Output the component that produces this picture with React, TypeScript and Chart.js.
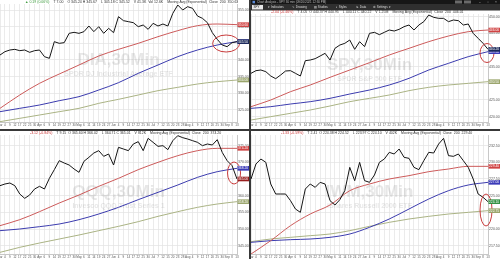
import React, { useEffect, useRef } from "react";
import { Chart, registerables } from "chart.js";
Chart.register(...registerables);

const FONT = '"Liberation Sans", Arial, sans-serif';

const xLabels = ["Mar","4","9","12","17","22","25","30","Apr","6","9","14","19","22","27","30","May","6","11","14","19","24","27","Jun","4","9","14","17","22","25","30","Jul","7","12","15","20","23","28","Aug","4","9","12","17","20","25","30","Sep","8","13"];

// DIA
const diaPrice = [341.5,342.5,343.0,343.2,342.8,343.0,342.3,342.8,343.0,341.0,340.5,345.5,345.0,345.2,348.0,348.3,348.0,348.5,350.2,348.5,350.0,348.0,349.5,348.2,353.0,351.8,351.5,351.2,350.0,350.5,349.2,351.0,350.2,350.8,350.2,354.0,356.5,355.0,356.0,355.5,353.2,352.5,351.2,348.2,346.2,344.5,344.0,345.2,345.5];
const diaMaRed = [325.5,329.5,333.0,335.8,338.5,341.2,343.2,345.0,347.0,348.8,350.3,350.8,350.6];
const diaMaBlue = [324.5,325.5,326.5,327.8,329.0,331.0,333.2,336.0,338.5,341.0,343.0,344.5,345.5];
const diaMaGreen = [321.5,322.5,323.5,324.5,325.5,327.0,328.2,329.5,330.8,331.8,332.8,333.5,334.0];
const diaTicks = [325,330,335,340,345,350,355];

// SPY
const spyPrice = [433.0,433.8,434.0,433.5,432.2,431.4,432.5,433.7,433.8,433.0,432.2,436.8,437.0,437.4,438.2,439.0,437.0,440.5,441.5,442.0,443.0,440.2,442.5,441.0,445.0,445.3,444.6,445.3,446.0,445.7,446.2,447.0,447.5,446.0,447.5,448.5,450.5,449.8,449.5,449.5,448.5,449.0,448.8,447.5,447.8,445.0,443.5,442.0,440.2];
const spyMaRed = [423.0,425.0,427.5,429.5,431.8,434.0,436.2,438.5,440.5,442.5,444.2,445.5,446.0];
const spyMaBlue = [422.5,423.0,423.8,424.5,425.5,426.8,428.0,429.5,431.5,434.0,436.0,438.0,439.5];
const spyMaGreen = [419.0,420.0,421.0,422.0,423.2,424.5,425.5,426.5,427.8,428.8,429.5,430.0,430.5];
const spyTicks = [420,425,430,435,440,445,450];

// QQQ
const qqqPrice = [363.0,363.5,363.8,363.0,360.5,359.2,360.2,362.0,362.8,362.0,365.2,367.8,370.5,369.8,369.2,368.0,367.0,370.3,371.5,372.8,373.5,371.8,372.5,369.2,374.5,374.0,373.5,375.5,376.2,373.5,377.2,376.0,374.8,375.0,373.8,376.5,378.0,377.4,377.0,376.5,376.0,375.0,375.5,375.2,376.8,373.0,370.5,369.0,365.0];
const qqqMaRed = [351.0,352.8,355.2,357.8,360.2,362.8,365.2,367.8,370.0,372.0,373.5,374.2,374.2];
const qqqMaBlue = [349.5,350.0,350.7,351.5,352.8,354.5,356.5,358.8,361.0,363.2,365.5,367.2,368.2];
const qqqMaGreen = [343.0,344.5,345.8,347.0,348.2,349.5,350.8,352.2,353.8,355.2,356.5,357.5,358.2];
const qqqTicks = [345,350,355,360,365,370,375];

// IWM
const iwmPrice = [227.5,229.75,230.5,230.0,226.75,225.25,225.25,225.25,224.25,223.0,222.5,226.0,226.75,226.25,227.0,226.75,224.25,223.6,224.4,225.75,229.25,227.25,230.0,227.25,227.0,228.1,230.0,230.5,231.5,231.25,232.0,230.75,230.6,229.25,228.9,230.25,231.5,231.4,232.75,233.6,231.0,230.9,231.25,230.25,229.25,227.5,225.25,224.75,224.1];
const iwmMaRed = [216.25,218.25,220.5,222.25,223.6,225.75,226.75,227.5,228.0,228.6,229.0,229.4,229.4];
const iwmMaBlue = [218.0,218.25,218.4,218.5,218.75,219.25,220.25,221.5,223.0,224.5,225.75,226.6,227.0];
const iwmMaGreen = [218.1,218.5,218.75,219.0,219.25,219.75,220.4,221.0,221.5,221.9,222.25,222.5,222.75];
const iwmTicks = [217.5,220,222.5,225,227.5,230,232.5];

const RED = "#cc5a5a";
const BLUE = "#3b3bae";
const GREEN = "#aab384";

type Seg = { t: string; c: string };
type PanelCfg = {
  price: number[]; red: number[]; blue: number[]; green: number[];
  yTicks: number[]; yMin: number; yMax: number;
  title: string; subtitle: string;
  header: Seg[]; headerX: number; headerY: number;
  ellipse: { x: number; y: number; rx: number; ry: number };
  priceBox: string; padTop: number; xAxisH: number; chrome?: boolean;
};

const overlay: any = {
  id: "overlay",
  beforeDraw(chart: any, _a: any, o: any) {
    if (!o.chrome) return;
    const ctx = chart.ctx; const w = chart.width;
    ctx.save();
    ctx.fillStyle = "#161616"; ctx.fillRect(0, 0, w, 4);
    ctx.fillStyle = "#2f2f2f"; ctx.fillRect(0, 4, w, 6.5);
    ctx.textBaseline = "middle";
    ctx.fillStyle = "#5a8ad8"; ctx.fillRect(1.5, 0.8, 2.5, 2.5);
    ctx.font = `3px ${FONT}`;
    ctx.fillStyle = "#b8b8b8";
    ctx.fillText("Chart Analysis - SPY 30 min (09/20/2021 12:30 PM)", 6, 2.1);
    ctx.fillStyle = "#6a6a6a"; ctx.fillRect(204, 0.5, 7, 3); ctx.fillRect(213, 0.5, 7, 3);
    ctx.fillStyle = "#cccccc";
    ctx.fillText("–", 228, 2.1); ctx.fillText("□", 236, 2.1); ctx.fillText("×", 244, 2.1);
    ctx.fillStyle = "#e8e8e8"; ctx.fillRect(1, 5, 11, 4.5);
    ctx.fillStyle = "#111"; ctx.fillText("SPY", 2.5, 7.3);
    ctx.fillStyle = "#dddddd";
    const items = ["▾ Indicators", "✎ Drawing", "▤ Studies", "◐ Styles", "⇅ Data", "⚙ Settings ▾"];
    const xs = [17, 41, 63, 85, 105, 122];
    items.forEach((t, i) => ctx.fillText(t, xs[i], 7.3));
    ctx.restore();
  },
  beforeDatasetsDraw(chart: any, _a: any, o: any) {
    const { ctx, chartArea: a } = chart;
    ctx.save();
    ctx.fillStyle = "rgba(110,110,110,0.17)";
    ctx.textAlign = "center";
    ctx.textBaseline = "alphabetic";
    const cx = (a.left + a.right) / 2, cy = (a.top + a.bottom) / 2;
    ctx.font = `bold 17px ${FONT}`;
    ctx.fillText(o.title, cx, cy + 2);
    ctx.font = `bold 7px ${FONT}`;
    ctx.fillText(o.subtitle, cx, cy + 13);
    ctx.restore();
  },
  afterDatasetsDraw(chart: any, _a: any, o: any) {
    const { ctx } = chart;
    const xs = chart.scales.x, ys = chart.scales.y;
    const e = o.ellipse;
    ctx.save();
    ctx.strokeStyle = "#c83c3c"; ctx.lineWidth = 1;
    ctx.beginPath();
    ctx.ellipse(xs.getPixelForValue(e.x), ys.getPixelForValue(e.y), e.rx, e.ry, 0, 0, Math.PI * 2);
    ctx.stroke();
    ctx.restore();
  },
  afterDraw(chart: any, _a: any, o: any) {
    const { ctx, chartArea: a } = chart;
    const ys = chart.scales.y;
    ctx.save();
    ctx.font = `3.5px ${FONT}`;
    ctx.textBaseline = "middle";
    let x = o.headerX;
    for (const s of o.header as Seg[]) {
      ctx.fillStyle = s.c;
      ctx.fillText(s.t, x, o.headerY);
      x += ctx.measureText(s.t).width + 4;
    }
    ctx.font = `3.3px ${FONT}`;
    for (const b of o.boxes) {
      const y = ys.getPixelForValue(b.v);
      ctx.fillStyle = b.c;
      ctx.fillRect(a.right + 0.5, y - 2.3, chart.width - a.right - 0.5, 4.6);
      ctx.fillStyle = "#ffffff";
      ctx.fillText(b.v.toFixed(2), a.right + 1, y + 0.2);
    }
    ctx.restore();
  },
};

function buildConfig(p: PanelCfg): any {
  const pts = (arr: number[], step: number) => arr.map((v, i) => ({ x: i * step, y: v }));
  const ma = (arr: number[], c: string) => ({
    data: pts(arr, 20), borderColor: c, borderWidth: 1, pointRadius: 0, cubicInterpolationMode: "monotone",
  });
  const last = (arr: number[]) => arr[arr.length - 1];
  return {
    type: "line",
    data: {
      datasets: [
        { data: pts(p.price, 5), borderColor: "#151515", borderWidth: 1, pointRadius: 0, tension: 0 },
        ma(p.red, RED), ma(p.blue, BLUE), ma(p.green, GREEN),
      ],
    },
    options: {
      animation: false, responsive: false, events: [],
      layout: { padding: { top: p.padTop, left: 0, right: 0, bottom: 0 } },
      plugins: {
        legend: { display: false }, tooltip: { enabled: false },
        overlay: {
          title: p.title, subtitle: p.subtitle, header: p.header, headerX: p.headerX, headerY: p.headerY,
          ellipse: p.ellipse, chrome: !!p.chrome,
          boxes: [
            { v: last(p.red), c: "#d04444" },
            { v: last(p.blue), c: "#3a3ab8" },
            { v: last(p.price), c: p.priceBox },
            { v: last(p.green), c: "#9aa56b" },
          ],
        },
      },
      scales: {
        x: {
          type: "linear", min: 0, max: 240,
          grid: { color: "#e3e3e3", lineWidth: 0.7, drawTicks: false },
          border: { color: "#c8c8c8" },
          ticks: { font: { size: 3, family: FONT }, color: "#555", maxRotation: 0, autoSkip: false, padding: 1.5,
            callback: (_v: any, i: number) => xLabels[i] ?? "" },
          afterBuildTicks: (s: any) => { s.ticks = xLabels.map((_, i) => ({ value: i * 5 })); },
          afterFit: (s: any) => { s.height = p.xAxisH; s.paddingLeft = 0; s.paddingRight = 0; },
        },
        y: {
          position: "right", min: p.yMin, max: p.yMax,
          grid: { color: "#e3e3e3", lineWidth: 0.7, drawTicks: false },
          border: { color: "#c8c8c8" },
          ticks: { font: { size: 3.5, family: FONT }, color: "#555", padding: 1,
            callback: (v: any) => Number(v).toFixed(2) },
          afterBuildTicks: (s: any) => { s.ticks = p.yTicks.map((v) => ({ value: v })); },
          afterFit: (s: any) => { s.width = 12; s.paddingTop = 0; s.paddingBottom = 0; },
        },
      },
    },
    plugins: [overlay],
  };
}

const dia: PanelCfg = {
  price: diaPrice, red: diaMaRed, blue: diaMaBlue, green: diaMaGreen,
  yTicks: diaTicks, yMin: 321.4, yMax: 356.8,
  title: "DIA,30Min", subtitle: "SPDR DJ Industrial Average ETF",
  header: [
    { t: "▲ 0.19 (0.06%)", c: "#3c9a3c" },
    { t: "T 7.00", c: "#333" },
    { t: "O 345.24 H 345.67", c: "#333" },
    { t: "L 345.18 C 345.52", c: "#333" },
    { t: "V 41.3K  Vol 12.6K", c: "#333" },
    { t: "Moving Avg (Exponential)  Close  200  350.63", c: "#333" },
  ],
  headerX: 25, headerY: 2,
  ellipse: { x: 229, y: 344.95, rx: 13.5, ry: 8.5 },
  priceBox: "#1c2a5a", padTop: 4, xAxisH: 7,
};

const spy: PanelCfg = {
  price: spyPrice, red: spyMaRed, blue: spyMaBlue, green: spyMaGreen,
  yTicks: spyTicks, yMin: 418.4, yMax: 450.8,
  title: "SPY,30Min", subtitle: "SPDR S&P 500 ETF",
  header: [
    { t: "-2.04 (-0.46%)", c: "#c83232" },
    { t: "T 4.05  O 440.37 H 440.95", c: "#333" },
    { t: "L 440.11 C 440.22", c: "#333" },
    { t: "V 1.25M", c: "#333" },
    { t: "Moving Avg (Exponential)  Close  200  446.01", c: "#333" },
  ],
  headerX: 20, headerY: 12,
  ellipse: { x: 239, y: 439.1, rx: 7, ry: 9.5 },
  priceBox: "#1c2a5a", padTop: 14, xAxisH: 7, chrome: true,
};

const qqq: PanelCfg = {
  price: qqqPrice, red: qqqMaRed, blue: qqqMaBlue, green: qqqMaGreen,
  yTicks: qqqTicks, yMin: 342.5, yMax: 378.2,
  title: "QQQ,30Min", subtitle: "Invesco QQQ Trust Series 1",
  header: [
    { t: "-3.12 (-0.84%)", c: "#c83232" },
    { t: "T 9.15  O 365.60 H 366.02", c: "#333" },
    { t: "L 364.71 C 365.01", c: "#333" },
    { t: "V 812K", c: "#333" },
    { t: "Moving Avg (Exponential)  Close  200  374.20", c: "#333" },
  ],
  headerX: 30, headerY: 2,
  ellipse: { x: 237, y: 366.8, rx: 6.5, ry: 11 },
  priceBox: "#9a1f1f", padTop: 4, xAxisH: 5,
};

const iwm: PanelCfg = {
  price: iwmPrice, red: iwmMaRed, blue: iwmMaBlue, green: iwmMaGreen,
  yTicks: iwmTicks, yMin: 216.25, yMax: 234.1,
  title: "IWM,30Min", subtitle: "iShares Russell 2000 ETF",
  header: [
    { t: "-1.33 (-0.59%)", c: "#c83232" },
    { t: "T 2.41  O 224.38 H 224.52", c: "#333" },
    { t: "L 223.97 C 224.10", c: "#333" },
    { t: "V 402K", c: "#333" },
    { t: "Moving Avg (Exponential)  Close  200  229.40", c: "#333" },
  ],
  headerX: 30, headerY: 2,
  ellipse: { x: 238, y: 222.85, rx: 6, ry: 16 },
  priceBox: "#2f8f3f", padTop: 4, xAxisH: 5,
};

function Panel({ cfg, left, top, width, height }: { cfg: PanelCfg; left: number; top: number; width: number; height: number }) {
  const ref = useRef<HTMLCanvasElement>(null);
  useEffect(() => {
    const chart = new Chart(ref.current as HTMLCanvasElement, buildConfig(cfg));
    return () => chart.destroy();
  }, [cfg]);
  return (
    <div style={{ position: "absolute", left, top, width, height, background: "#ffffff" }}>
      <canvas ref={ref} width={width} height={height} style={{ display: "block", width, height }} />
    </div>
  );
}

export default function App() {
  return (
    <div style={{ position: "absolute", left: 0, top: 0, width: 500, height: 259, background: "#383838", overflow: "hidden" }}>
      <Panel cfg={dia} left={0} top={0} width={249} height={129} />
      <Panel cfg={spy} left={251} top={0} width={249} height={129} />
      <Panel cfg={qqq} left={0} top={131} width={249} height={128} />
      <Panel cfg={iwm} left={251} top={131} width={249} height={128} />
    </div>
  );
}
